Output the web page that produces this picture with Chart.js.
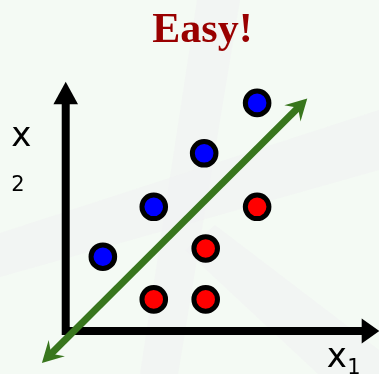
<!DOCTYPE html>
<html>
<head>
<meta charset="utf-8">
<title>Easy!</title>
<script src="https://cdn.jsdelivr.net/npm/chart.js@4/dist/chart.umd.min.js"></script>
<style>
  html, body { margin: 0; padding: 0; background: #f4faf4; }
  canvas { display: block; }
</style>
</head>
<body>
<canvas id="c" width="379" height="374"></canvas>
<script>
// Two classes of samples in the (x1, x2) feature plane
const blueX = [1.00, 1.99, 2.97, 4.00];
const blueY = [1.83, 2.80, 3.84, 4.82];
const redX = [1.99, 3.00, 3.00, 4.00];
const redY = [1.00, 1.00, 1.99, 2.80];

// Separating line (shaft ends; arrow heads are added on both sides)
const boundaryX = [-0.02, 4.81];
const boundaryY = [-0.07, 4.74];

// Axis arrows: crossing point and extents, in data units
const axisCross = [0.278, 0.386];      // [x of vertical axis, y of horizontal axis]
const xAxisSpan = [0.206, 6.38];
const yAxisSpan = [0.308, 5.232];

// Texts
const chartTitle = 'Easy!';
const xAxisTitle = ['x', '1'];
const yAxisTitle = ['x', '2'];

const GREEN = '#38761d';

function toPoints(xs, ys) {
  return xs.map((x, i) => ({ x: x, y: ys[i] }));
}

// Light rays in the backdrop
const backdrop = {
  id: 'backdrop',
  beforeDraw(chart) {
    const ctx = chart.ctx;
    ctx.save();
    ctx.fillStyle = '#f4faf4';
    ctx.fillRect(0, 0, chart.width, chart.height);
    ctx.fillStyle = 'rgba(240,240,243,0.55)';
    const polys = [
      [[197, 0], [240, 0], [178, 374], [140, 374]],
      [[0, 233], [379, 110], [379, 170], [0, 277]],
      [[215, 225], [379, 350], [379, 374], [318, 374], [185, 250]]
    ];
    polys.forEach(p => {
      ctx.beginPath();
      ctx.moveTo(p[0][0], p[0][1]);
      for (let i = 1; i < p.length; i++) ctx.lineTo(p[i][0], p[i][1]);
      ctx.closePath();
      ctx.fill();
    });
    ctx.restore();
  }
};

function arrowHead(ctx, tipX, tipY, ux, uy, len, half, notch) {
  // (ux, uy): unit vector pointing toward the tip
  const nx = -uy, ny = ux;
  const bx = tipX - ux * len, by = tipY - uy * len;
  ctx.beginPath();
  ctx.moveTo(tipX, tipY);
  ctx.lineTo(bx + nx * half, by + ny * half);
  ctx.lineTo(tipX - ux * notch, tipY - uy * notch);
  ctx.lineTo(bx - nx * half, by - ny * half);
  ctx.closePath();
  ctx.fill();
}

// Black coordinate axes with arrow heads, drawn beneath the samples
const axesArrows = {
  id: 'axesArrows',
  beforeDatasetsDraw(chart) {
    const ctx = chart.ctx;
    const sx = chart.scales.x, sy = chart.scales.y;
    const ax = sx.getPixelForValue(axisCross[0]);
    const ay = sy.getPixelForValue(axisCross[1]);
    const yTop = sy.getPixelForValue(yAxisSpan[1]);
    const yBot = sy.getPixelForValue(yAxisSpan[0]);
    const xLeft = sx.getPixelForValue(xAxisSpan[0]);
    const xRight = sx.getPixelForValue(xAxisSpan[1]);
    ctx.save();
    ctx.strokeStyle = '#000';
    ctx.fillStyle = '#000';
    ctx.lineWidth = 8;
    ctx.lineCap = 'butt';
    // vertical axis
    ctx.beginPath();
    ctx.moveTo(ax, yBot);
    ctx.lineTo(ax, yTop + 20);
    ctx.stroke();
    arrowHead(ctx, ax, yTop, 0, -1, 22.6, 12.3, 22.6);
    // horizontal axis
    ctx.beginPath();
    ctx.moveTo(xLeft, ay);
    ctx.lineTo(xRight - 15, ay);
    ctx.stroke();
    arrowHead(ctx, xRight, ay, 1, 0, 17.8, 12.5, 17.8);
    ctx.restore();
  },
  afterDatasetsDraw(chart) {
    const ctx = chart.ctx;
    const sx = chart.scales.x, sy = chart.scales.y;
    // arrow heads on both ends of the separating line
    const x0 = sx.getPixelForValue(boundaryX[0]), y0 = sy.getPixelForValue(boundaryY[0]);
    const x1 = sx.getPixelForValue(boundaryX[1]), y1 = sy.getPixelForValue(boundaryY[1]);
    const d = Math.hypot(x1 - x0, y1 - y0);
    const ux = (x1 - x0) / d, uy = (y1 - y0) / d;
    const ext = 12;
    ctx.save();
    ctx.fillStyle = GREEN;
    arrowHead(ctx, x1 + ux * ext, y1 + uy * ext, ux, uy, 21, 11.5, 13);
    arrowHead(ctx, x0 - ux * ext, y0 - uy * ext, -ux, -uy, 21, 11.5, 13);

    // title and axis names
    ctx.textAlign = 'center';
    ctx.textBaseline = 'alphabetic';
    ctx.fillStyle = '#990000';
    ctx.font = 'bold 42px "Liberation Serif", "Times New Roman", serif';
    ctx.fillText(chartTitle, 202.5, 41.5);

    const ax = sx.getPixelForValue(axisCross[0]);
    const ay = sy.getPixelForValue(axisCross[1]);
    ctx.fillStyle = '#000';
    ctx.font = '34px "DejaVu Sans", sans-serif';
    ctx.fillText(yAxisTitle[0], ax - 44.5, 145.7);
    ctx.fillText(xAxisTitle[0], 336.7, ay + 36);
    ctx.font = '21px "DejaVu Sans", sans-serif';
    ctx.fillText(yAxisTitle[1], ax - 47.8, 190.7);
    ctx.fillText(xAxisTitle[1], 354, ay + 43);
    ctx.restore();
  }
};

const pointStyle = {
  pointRadius: 11.8,
  pointHoverRadius: 11.8,
  pointBorderWidth: 5,
  pointHoverBorderWidth: 5,
  pointBorderColor: '#000',
  borderColor: '#000'
};

new Chart(document.getElementById('c'), {
  type: 'scatter',
  data: {
    datasets: [
      {
        type: 'line',
        label: 'boundary',
        data: toPoints(boundaryX, boundaryY),
        showLine: true,
        borderColor: GREEN,
        borderWidth: 7,
        borderCapStyle: 'butt',
        pointRadius: 0,
        clip: false,
        order: 0
      },
      Object.assign({
        label: 'class A',
        data: toPoints(blueX, blueY),
        backgroundColor: '#0000ff',
        pointBackgroundColor: '#0000ff',
        order: 1
      }, pointStyle),
      Object.assign({
        label: 'class B',
        data: toPoints(redX, redY),
        backgroundColor: '#ff0000',
        pointBackgroundColor: '#ff0000',
        order: 2
      }, pointStyle)
    ]
  },
  options: {
    responsive: false,
    devicePixelRatio: 1,
    animation: false,
    events: [],
    layout: { padding: 0, autoPadding: false },
    plugins: {
      legend: { display: false },
      tooltip: { enabled: false },
      title: { display: false }
    },
    scales: {
      x: { type: 'linear', min: -1, max: 6.37, display: false },
      y: { type: 'linear', min: -0.45, max: 6.82, display: false }
    }
  },
  plugins: [backdrop, axesArrows]
});
</script>
</body>
</html>
